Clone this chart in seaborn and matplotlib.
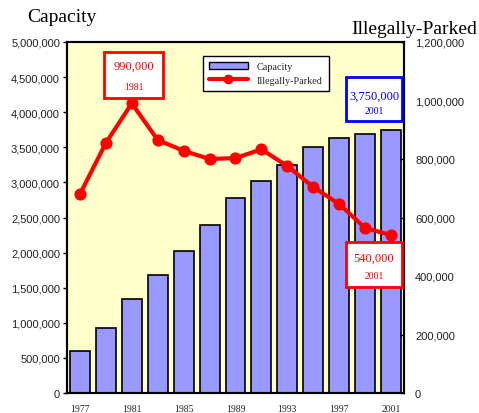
import matplotlib
matplotlib.use("Agg")
import matplotlib.pyplot as plt
import seaborn as sns
import pandas as pd
from matplotlib.patches import Rectangle
from matplotlib.lines import Line2D
from matplotlib.ticker import FuncFormatter

years = ["1977", "1979", "1981", "1983", "1985", "1987", "1989",
         "1991", "1993", "1995", "1997", "1999", "2001"]
capacity = [600000, 925000, 1340000, 1680000, 2020000, 2390000, 2780000,
            3020000, 3250000, 3500000, 3630000, 3690000, 3750000]
illegal = [680000, 855000, 990000, 865000, 828000, 800000, 803000,
           833000, 776000, 704000, 646000, 564000, 540000]
xtick_labels = ["1977", "1981", "1985", "1989", "1993", "1997", "2001"]

df = pd.DataFrame({"year": years, "capacity": capacity, "illegal": illegal})

sns.set_theme(style="white")
plt.rcParams["font.family"] = ["Liberation Sans", "DejaVu Sans"]

W, H = 479, 414
fig = plt.figure(figsize=(W / 100, H / 100), dpi=100)
ax = fig.add_axes([67 / W, 1 - 394 / H, (404 - 67) / W, (394 - 43) / H])
ax.set_facecolor("#FFFFCC")

sns.barplot(data=df, x="year", y="capacity", ax=ax, color="#9999FF",
            saturation=1, width=0.77, edgecolor="black", linewidth=1.2)
ax.set_ylim(0, 5000000)
ax.set_yticks(range(0, 5000001, 500000))
ax.yaxis.set_major_formatter(FuncFormatter(lambda v, p: f"{int(v):,}"))
ax.set_xlim(-0.5, 12.5)

ax2 = ax.twinx()
sns.pointplot(data=df, x="year", y="illegal", ax=ax2, color="red",
              markers="o", markersize=6.5, linewidth=3)
ax2.set_ylim(0, 1200000)
ax2.set_yticks(range(0, 1200001, 200000))
ax2.yaxis.set_major_formatter(FuncFormatter(lambda v, p: f"{int(v):,}"))
ax2.set_xlim(-0.5, 12.5)

for a in (ax, ax2):
    a.set_xlabel("")
    a.set_ylabel("")
    for s in a.spines.values():
        s.set_color("black")
        s.set_linewidth(1.5)
        s.set_visible(True)

ax.set_xticks(range(0, 13, 2))
ax.set_xticklabels(xtick_labels, family="Liberation Serif", fontsize=7)
ax.tick_params(axis="x", length=0, pad=8)
ax.tick_params(axis="y", labelsize=8, length=3, width=1, direction="out",
               pad=2, left=True, colors="black")
ax2.tick_params(axis="y", labelsize=8, length=3, width=1, direction="in",
                pad=8, right=True, colors="black")
for lbl in ax.get_yticklabels() + ax2.get_yticklabels():
    lbl.set_color("#222222")

fig.text(27 / W, 1 - 18 / H, "Capacity", family="Liberation Serif",
         fontsize=14, ha="left", va="center", color="black")
fig.text(477 / W, 1 - 30 / H, "Illegally-Parked", family="Liberation Serif",
         fontsize=14, ha="right", va="center", color="black")

handles = [
    Rectangle((0, 0), 1, 1, facecolor="#9999FF", edgecolor="black", linewidth=1),
    Line2D([0], [0], color="red", linewidth=3, marker="o", markersize=6),
]
leg = ax2.legend(handles, ["Capacity", "Illegally-Parked"],
                 loc="upper left", bbox_to_anchor=((203 - 67) / (404 - 67), 1 - (57 - 43) / (394 - 43)),
                 prop={"family": "Liberation Serif", "size": 7.3},
                 frameon=True, fancybox=False, edgecolor="black",
                 facecolor="white", framealpha=1, borderpad=0.6,
                 handlelength=3.8, handletextpad=0.9, labelspacing=0.45,
                 borderaxespad=0)
leg.get_frame().set_linewidth(1)


def callout(x0, y0, x1, y1, color, big, small, yb, ys):
    fig.patches.append(Rectangle((x0 / W, 1 - y1 / H), (x1 - x0) / W, (y1 - y0) / H,
                                 transform=fig.transFigure, facecolor="white",
                                 edgecolor=color, linewidth=2, zorder=5))
    cx = (x0 + x1) / 2 / W
    fig.text(cx, 1 - yb / H, big, family="Liberation Serif", fontsize=9,
             color=color, ha="center", va="center", zorder=6)
    fig.text(cx, 1 - ys / H, small, family="Liberation Serif", fontsize=7,
             color=color, ha="center", va="center", zorder=6)


callout(104, 53, 163, 99, "red", f"{illegal[2]:,}", years[2], 67, 87)
callout(346, 78, 402, 122, "blue", f"{capacity[-1]:,}", years[-1], 97, 111)
callout(346, 243, 402, 288, "red", f"{illegal[-1]:,}", years[-1], 259, 277)

fig.savefig("out.png", dpi=100, facecolor="white")
